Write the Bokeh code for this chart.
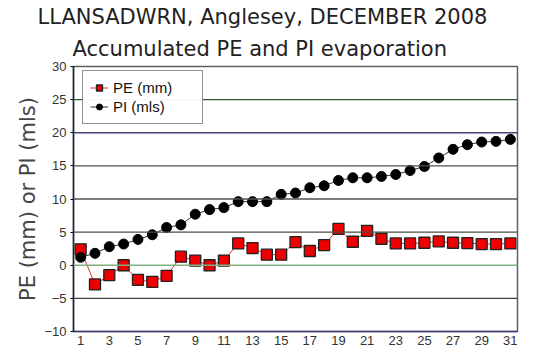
from bokeh.plotting import figure
from bokeh.models import Span, Legend, LegendItem, FixedTicker, Range1d, Title
from bokeh.embed import file_html
from bokeh.resources import INLINE

days = list(range(1, 32))
pe_mm = [2.4, -2.9, -1.5, 0.0, -2.2, -2.5, -1.6, 1.3, 0.7, 0.0, 0.7, 3.3, 2.6, 1.6, 1.6,
         3.5, 2.15, 3.05, 5.5, 3.55, 5.2, 4.0, 3.3, 3.3, 3.4, 3.6, 3.4, 3.35, 3.2, 3.2, 3.3]
pi_mls = [1.2, 1.8, 2.8, 3.2, 3.9, 4.6, 5.7, 6.1, 7.7, 8.4, 8.7, 9.6, 9.6, 9.6, 10.7,
          10.9, 11.7, 12.0, 12.8, 13.2, 13.2, 13.4, 13.7, 14.3, 14.9, 16.2, 17.5, 18.2, 18.6, 18.7, 19.0]
x_ticks = list(range(1, 32, 2))
y_ticks = list(range(-10, 31, 5))
grid_levels = [25, 20, 15, 10, 5, 0, -5]
title_lines = ["LLANSADWRN, Anglesey, DECEMBER 2008", "Accumulated PE and PI evaporation"]
y_label = "PE (mm) or PI (mls)"
series_names = ["PE (mm)", "PI (mls)"]

p = figure(width=536, height=356, output_backend="svg", toolbar_location=None,
           x_range=Range1d(0.5, 31.5), y_range=Range1d(-10, 30),
           min_border_left=73, min_border_right=19, min_border_top=66,
           min_border_bottom=25)
p.background_fill_color = "white"
p.border_fill_color = "white"
p.outline_line_color = "#606060"
p.outline_line_width = 1.5
p.xgrid.visible = False
p.ygrid.visible = False

grid_colors = {25: "#2e5e2e", 20: "#4f4570", 15: "#505050", 10: "#505050",
               5: "#4f4f3f", 0: "#7faf7f", -5: "#404040"}
for lv in grid_levels:
    p.add_layout(Span(location=lv, dimension="width", line_color=grid_colors[lv], line_width=1.3))

p.xaxis.ticker = FixedTicker(ticks=x_ticks)
p.yaxis.ticker = FixedTicker(ticks=y_ticks)
p.xaxis.minor_tick_line_color = None
p.yaxis.minor_tick_line_color = None
p.xaxis.major_tick_out = 0
p.xaxis.major_tick_in = 0
p.yaxis.major_tick_out = 3
p.yaxis.major_tick_in = 0
p.xaxis.axis_line_color = "#4a3f7a"
p.yaxis.axis_line_color = "#222244"
p.xaxis.axis_line_width = 1.5
p.yaxis.axis_line_width = 1.5
for ax in (p.xaxis, p.yaxis):
    ax.major_label_text_font = "Liberation Sans"
    ax.major_label_text_font_size = "13px"
    ax.major_label_text_color = "#333333"
p.xaxis.major_label_standoff = 4
p.yaxis.major_label_standoff = 4
p.yaxis.axis_label = y_label
p.yaxis.axis_label_text_font = "DejaVu Sans"
p.yaxis.axis_label_text_font_style = "normal"
p.yaxis.axis_label_text_font_size = "21px"
p.yaxis.axis_label_text_color = "#444444"
p.yaxis.axis_label_standoff = 1

pe_line = p.line(days, pe_mm, line_color="#e03030", line_width=1)
pe_pts = p.scatter(days, pe_mm, marker="square", size=11, fill_color="#ee0000",
                   line_color="#222222", line_width=1.3)
pi_line = p.line(days, pi_mls, line_color="#333344", line_width=1)
pi_pts = p.scatter(days, pi_mls, marker="circle", size=10, fill_color="black",
                   line_color="black", line_width=1)

legend = Legend(items=[LegendItem(label=series_names[0], renderers=[pe_line, pe_pts]),
                       LegendItem(label=series_names[1], renderers=[pi_line, pi_pts])],
                location=(9, 207))
legend.label_text_font = "Liberation Sans"
legend.label_text_font_size = "15px"
legend.label_text_color = "#111111"
legend.border_line_color = "#222222"
legend.border_line_width = 1
legend.background_fill_color = "white"
legend.padding = 7
legend.spacing = 0
legend.margin = 0
legend.glyph_width = 18
legend.glyph_height = 15
legend.label_height = 19
legend.label_width = 82
legend.label_standoff = 5
p.add_layout(legend)

# titles: the one added first sits nearest the frame
title_offsets = [-36, -1]
title_standoffs = [1, 11]
for i in (1, 0):
    t = Title(text=title_lines[i], align="left", offset=title_offsets[i], text_font="DejaVu Sans",
              text_font_size="21px", text_font_style="normal", text_color="#222222",
              standoff=title_standoffs[i])
    p.add_layout(t, "above")

open("out.html", "w").write(file_html(p, INLINE))
